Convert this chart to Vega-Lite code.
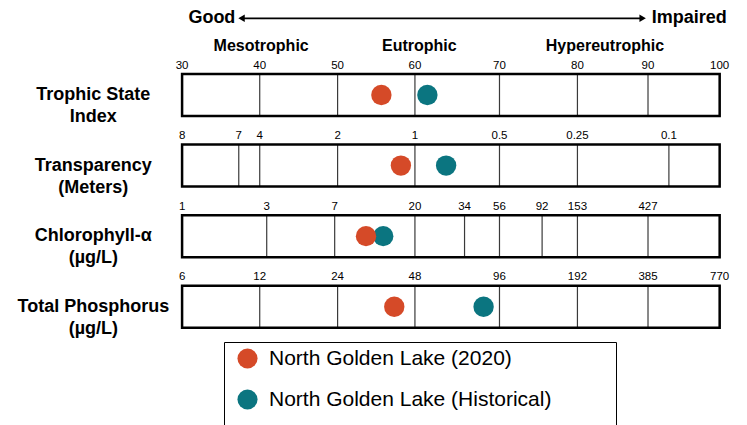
{
  "$schema": "https://vega.github.io/schema/vega-lite/v6.json",
  "width": 747,
  "height": 425,
  "padding": 0,
  "autosize": {"type": "none"},
  "background": "white",
  "config": {
    "view": {"stroke": null},
    "font": "Liberation Sans"
  },
  "datasets": {
    "rows": [
      {"row": 1, "name": "Trophic State\nIndex"},
      {"row": 2, "name": "Transparency\n(Meters)"},
      {"row": 3, "name": "Chlorophyll-α\n(µg/L)"},
      {"row": 4, "name": "Total Phosphorus\n(µg/L)"}
    ],
    "ticks": [
      {"row": 1, "pos": 30, "label": "30"},
      {"row": 1, "pos": 40.11, "label": "40"},
      {"row": 1, "pos": 50.25, "label": "50"},
      {"row": 1, "pos": 60.32, "label": "60"},
      {"row": 1, "pos": 71.33, "label": "70"},
      {"row": 1, "pos": 81.48, "label": "80"},
      {"row": 1, "pos": 90.67, "label": "90"},
      {"row": 1, "pos": 100, "label": "100"},
      {"row": 2, "pos": 30, "label": "8"},
      {"row": 2, "pos": 37.38, "label": "7"},
      {"row": 2, "pos": 40.11, "label": "4"},
      {"row": 2, "pos": 50.25, "label": "2"},
      {"row": 2, "pos": 60.32, "label": "1"},
      {"row": 2, "pos": 71.33, "label": "0.5"},
      {"row": 2, "pos": 81.48, "label": "0.25"},
      {"row": 2, "pos": 93.39, "label": "0.1"},
      {"row": 3, "pos": 30, "label": "1"},
      {"row": 3, "pos": 41.02, "label": "3"},
      {"row": 3, "pos": 49.87, "label": "7"},
      {"row": 3, "pos": 60.32, "label": "20"},
      {"row": 3, "pos": 66.78, "label": "34"},
      {"row": 3, "pos": 71.33, "label": "56"},
      {"row": 3, "pos": 76.88, "label": "92"},
      {"row": 3, "pos": 81.48, "label": "153"},
      {"row": 3, "pos": 90.67, "label": "427"},
      {"row": 4, "pos": 30, "label": "6"},
      {"row": 4, "pos": 40.11, "label": "12"},
      {"row": 4, "pos": 50.25, "label": "24"},
      {"row": 4, "pos": 60.32, "label": "48"},
      {"row": 4, "pos": 71.33, "label": "96"},
      {"row": 4, "pos": 81.48, "label": "192"},
      {"row": 4, "pos": 90.67, "label": "385"},
      {"row": 4, "pos": 100, "label": "770"}
    ],
    "lakes": [
      {"row": 1, "lake": "North Golden Lake (Historical)", "pos": 61.94},
      {"row": 2, "lake": "North Golden Lake (Historical)", "pos": 64.38},
      {"row": 3, "lake": "North Golden Lake (Historical)", "pos": 56.19},
      {"row": 4, "lake": "North Golden Lake (Historical)", "pos": 69.26},
      {"row": 1, "lake": "North Golden Lake (2020)", "pos": 55.95},
      {"row": 2, "lake": "North Golden Lake (2020)", "pos": 58.49},
      {"row": 3, "lake": "North Golden Lake (2020)", "pos": 53.95},
      {"row": 4, "lake": "North Golden Lake (2020)", "pos": 57.63}
    ]
  },
  "layer": [
    {
      "data": {"name": "rows"},
      "mark": {"type": "text", "fontWeight": "bold", "fontSize": 18, "lineBreak": "\n", "lineHeight": 22, "align": "center", "baseline": "middle", "color": "black"},
      "encoding": {
        "x": {"datum": 18.44, "type": "quantitative", "scale": {"domain": [6.29, 103.56], "nice": false, "zero": false}, "axis": null},
        "y": {"field": "row", "type": "quantitative", "scale": {"domain": [-0.3462, 5.6762], "reverse": true, "nice": false, "zero": false}, "axis": null},
        "text": {"field": "name", "type": "nominal"}
      }
    },
    {
      "data": {"name": "ticks"},
      "mark": {"type": "rule", "color": "#3a3a3a", "strokeWidth": 1.2, "yOffset": -21, "y2Offset": 21},
      "encoding": {
        "x": {"field": "pos", "type": "quantitative", "scale": {"domain": [6.29, 103.56], "nice": false, "zero": false}, "axis": null},
        "y": {"field": "row", "type": "quantitative", "scale": {"domain": [-0.3462, 5.6762], "reverse": true, "nice": false, "zero": false}, "axis": null},
        "y2": {"field": "row"}
      }
    },
    {
      "data": {"name": "rows"},
      "mark": {"type": "rect", "fill": "transparent", "stroke": "black", "strokeWidth": 2.5, "yOffset": -21, "y2Offset": 21},
      "encoding": {
        "x": {"datum": 30, "type": "quantitative", "scale": {"domain": [6.29, 103.56], "nice": false, "zero": false}, "axis": null},
        "x2": {"datum": 100},
        "y": {"field": "row", "type": "quantitative", "scale": {"domain": [-0.3462, 5.6762], "reverse": true, "nice": false, "zero": false}, "axis": null},
        "y2": {"field": "row"}
      }
    },
    {
      "data": {"name": "ticks"},
      "mark": {"type": "text", "fontSize": 11.5, "align": "center", "baseline": "alphabetic", "yOffset": -26.3, "color": "black"},
      "encoding": {
        "x": {"field": "pos", "type": "quantitative", "scale": {"domain": [6.29, 103.56], "nice": false, "zero": false}, "axis": null},
        "y": {"field": "row", "type": "quantitative", "scale": {"domain": [-0.3462, 5.6762], "reverse": true, "nice": false, "zero": false}, "axis": null},
        "text": {"field": "label", "type": "nominal"}
      }
    },
    {
      "data": {"name": "lakes"},
      "mark": {"type": "point", "filled": true, "size": 415, "opacity": 1, "strokeWidth": 0},
      "encoding": {
        "x": {"field": "pos", "type": "quantitative", "scale": {"domain": [6.29, 103.56], "nice": false, "zero": false}, "axis": null},
        "y": {"field": "row", "type": "quantitative", "scale": {"domain": [-0.3462, 5.6762], "reverse": true, "nice": false, "zero": false}, "axis": null},
        "color": {
          "field": "lake",
          "type": "nominal",
          "scale": {"domain": ["North Golden Lake (2020)", "North Golden Lake (Historical)"], "range": ["#D54A28", "#0B7580"]},
          "legend": {
            "orient": "none",
            "legendX": 224,
            "legendY": 342,
            "direction": "vertical",
            "title": "____________________________________________________________________",
            "titleOrient": "bottom",
            "titleFontSize": 10.05,
            "titleFontWeight": "normal",
            "titleFont": "Liberation Sans",
            "titleOpacity": 0,
            "titleLimit": 1000,
            "titlePadding": 0,
            "symbolType": "circle",
            "symbolSize": 405,
            "symbolStrokeWidth": 0,
            "symbolOffset": 7,
            "labelFontSize": 21,
            "labelFont": "Liberation Sans",
            "labelColor": "black",
            "labelOffset": 11,
            "labelLimit": 1000,
            "rowPadding": 19,
            "padding": 6,
            "strokeColor": "black",
            "fillColor": "white",
            "encode": {"legend": {"update": {"strokeWidth": {"value": 2}}}}
          }
        }
      }
    },
    {
      "data": {"values": [{"text": "Good", "pos": 33.88}, {"text": "Impaired", "pos": 96.05}]},
      "mark": {"type": "text", "fontWeight": "bold", "fontSize": 18, "align": "center", "baseline": "middle", "color": "black"},
      "encoding": {
        "x": {"field": "pos", "type": "quantitative", "scale": {"domain": [6.29, 103.56], "nice": false, "zero": false}, "axis": null},
        "y": {"datum": -0.094, "type": "quantitative", "scale": {"domain": [-0.3462, 5.6762], "reverse": true, "nice": false, "zero": false}, "axis": null},
        "text": {"field": "text", "type": "nominal"}
      }
    },
    {
      "data": {"values": [{"text": "Mesotrophic", "pos": 40.3}, {"text": "Eutrophic", "pos": 60.89}, {"text": "Hypereutrophic", "pos": 85.06}]},
      "mark": {"type": "text", "fontWeight": "bold", "fontSize": 16, "align": "center", "baseline": "middle", "color": "black"},
      "encoding": {
        "x": {"field": "pos", "type": "quantitative", "scale": {"domain": [6.29, 103.56], "nice": false, "zero": false}, "axis": null},
        "y": {"datum": 0.3014, "type": "quantitative", "scale": {"domain": [-0.3462, 5.6762], "reverse": true, "nice": false, "zero": false}, "axis": null},
        "text": {"field": "text", "type": "nominal"}
      }
    },
    {
      "data": {"values": [{"start": 37.74, "end": 89.97}]},
      "mark": {"type": "rule", "color": "black", "strokeWidth": 1.8},
      "encoding": {
        "x": {"field": "start", "type": "quantitative", "scale": {"domain": [6.29, 103.56], "nice": false, "zero": false}, "axis": null},
        "x2": {"field": "end"},
        "y": {"datum": -0.087, "type": "quantitative", "scale": {"domain": [-0.3462, 5.6762], "reverse": true, "nice": false, "zero": false}, "axis": null}
      }
    },
    {
      "data": {"values": [{"end": "Good", "pos": 37.74}, {"end": "Impaired", "pos": 89.97}]},
      "mark": {"type": "point", "filled": true, "size": 55, "opacity": 1, "color": "black"},
      "encoding": {
        "x": {"field": "pos", "type": "quantitative", "scale": {"domain": [6.29, 103.56], "nice": false, "zero": false}, "axis": null},
        "y": {"datum": -0.087, "type": "quantitative", "scale": {"domain": [-0.3462, 5.6762], "reverse": true, "nice": false, "zero": false}, "axis": null},
        "shape": {"field": "end", "type": "nominal", "scale": {"domain": ["Good", "Impaired"], "range": ["triangle-left", "triangle-right"]}, "legend": null}
      }
    }
  ]
}
